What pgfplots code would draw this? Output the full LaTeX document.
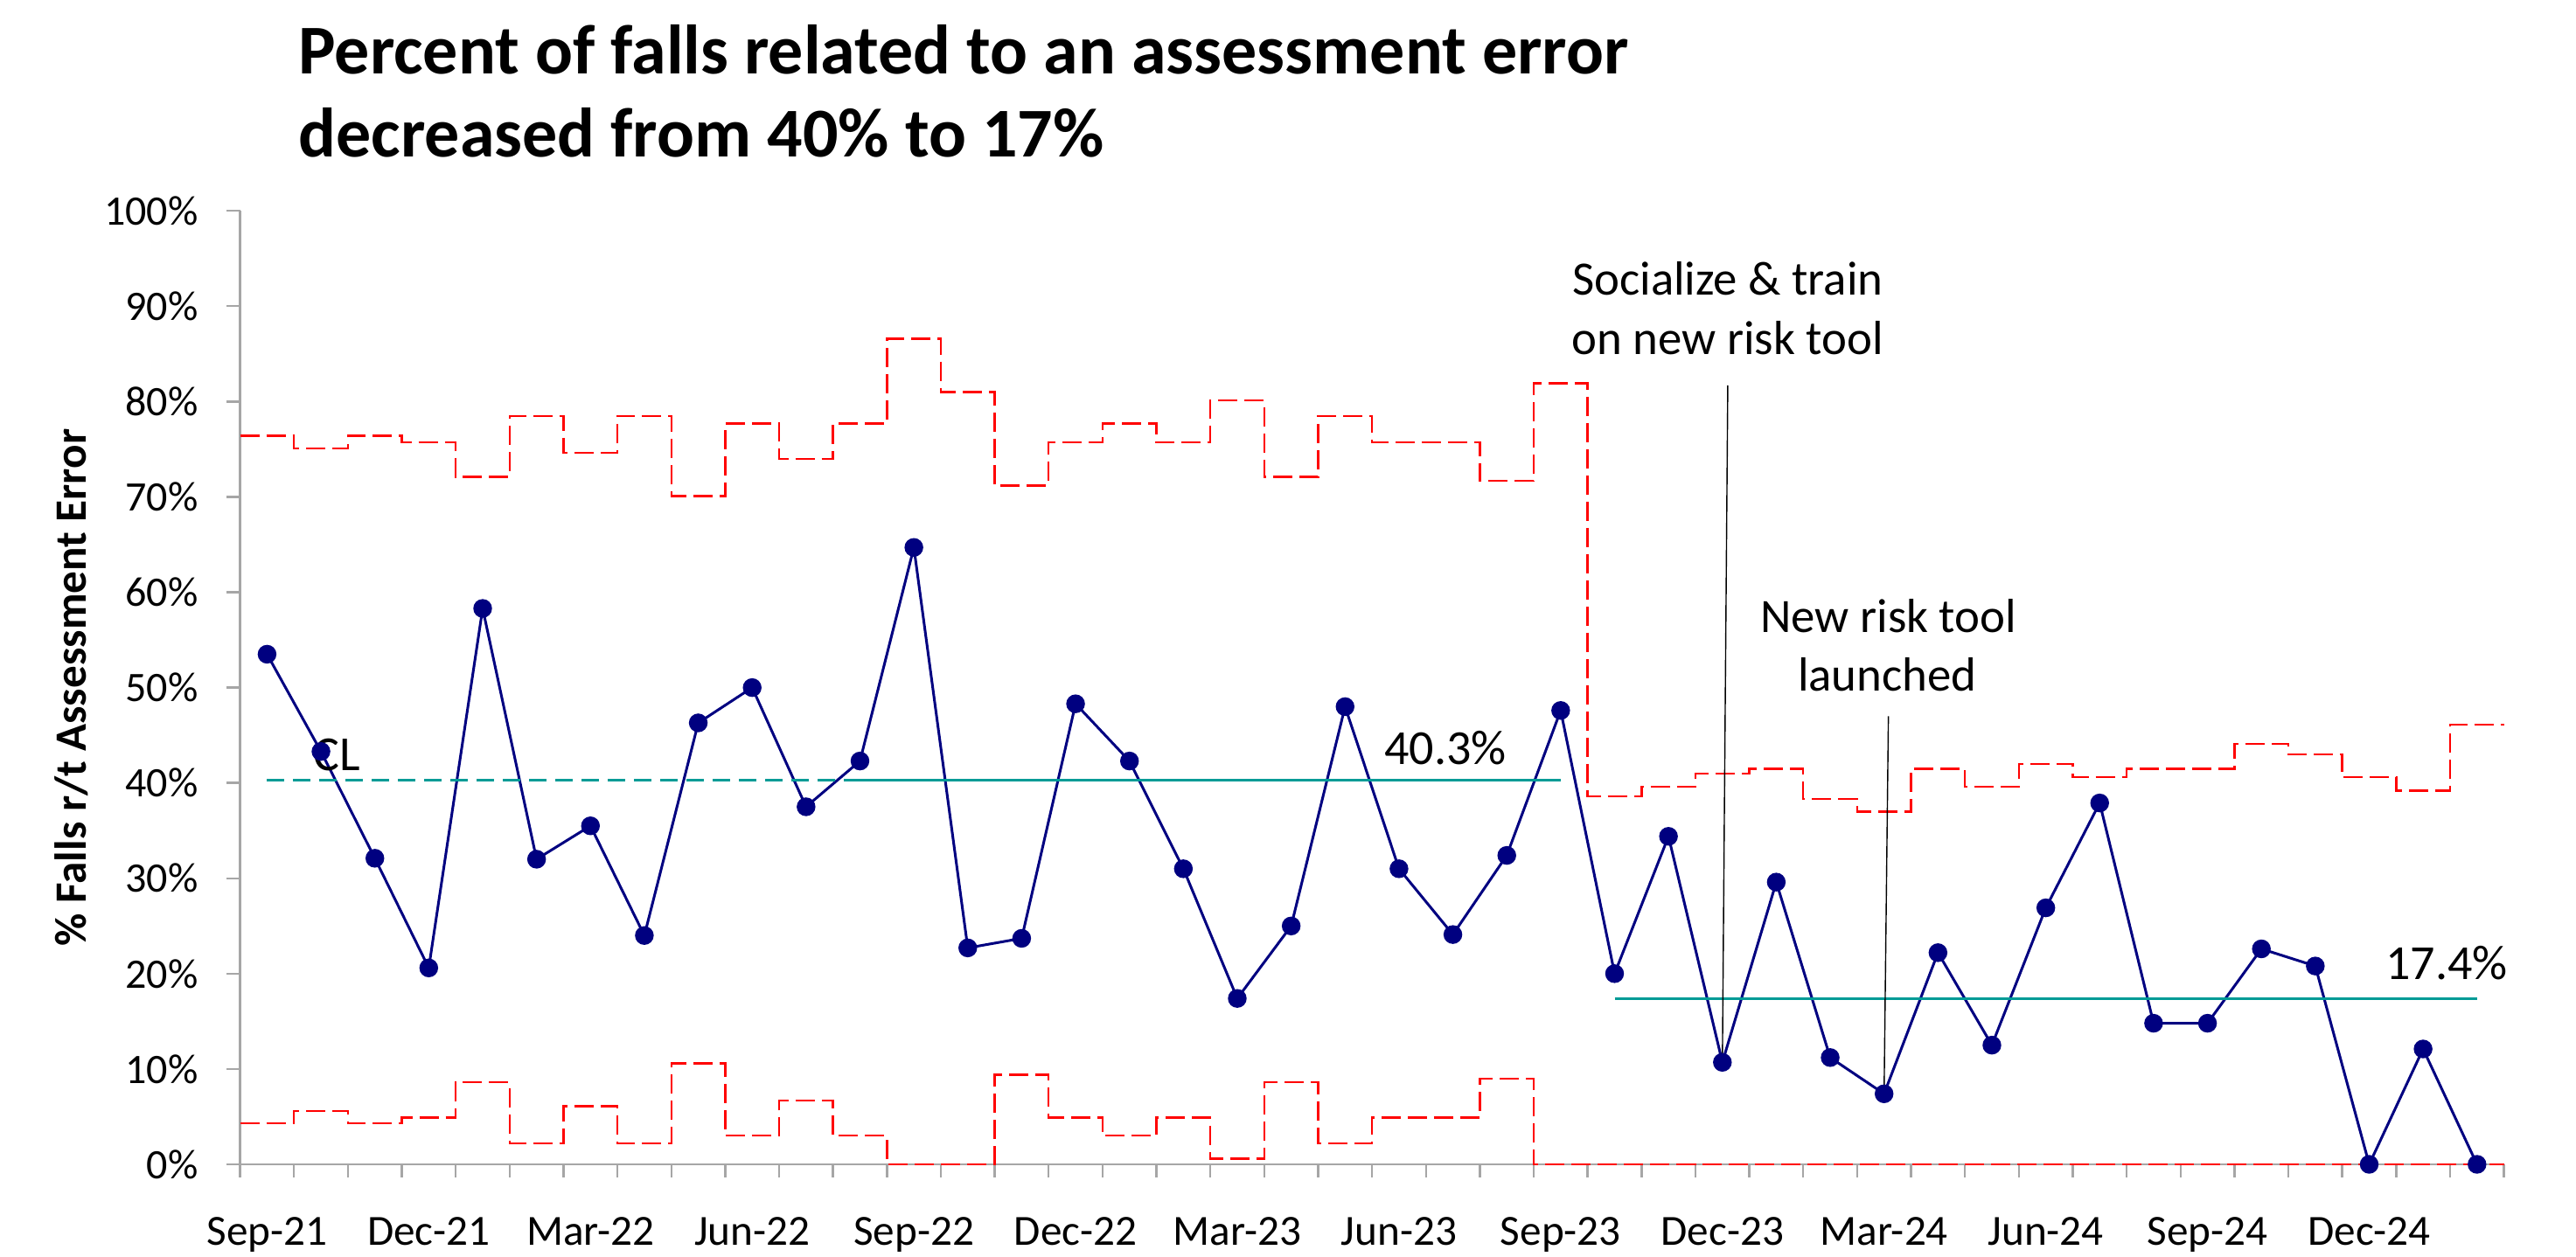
\documentclass[border=0pt]{standalone}
\usepackage{fontspec}
\setmainfont{Carlito}
\usepackage{pgfplots}
\usepackage{pgfplotstable}
\pgfplotsset{compat=1.18}
\definecolor{navyc}{RGB}{0,0,128}
\definecolor{tealc}{RGB}{0,155,150}
\definecolor{axgray}{RGB}{166,166,166}

\pgfplotstableread{
x y
0 53.5
1 43.3
2 32.1
3 20.6
4 58.3
5 32.0
6 35.5
7 24.0
8 46.3
9 50.0
10 37.5
11 42.3
12 64.7
13 22.7
14 23.7
15 48.3
16 42.3
17 31.0
18 17.4
19 25.0
20 48.0
21 31.0
22 24.1
23 32.4
24 47.6
25 20.0
26 34.4
27 10.7
28 29.6
29 11.2
30 7.4
31 22.2
32 12.5
33 26.9
34 37.9
35 14.8
36 14.8
37 22.6
38 20.8
39 0
40 12.1
41 0
}\datatable

\pgfplotstableread{
x ucl lcl
-0.5 76.4 4.3
0.5 75.1 5.6
1.5 76.4 4.3
2.5 75.7 4.9
3.5 72.1 8.6
4.5 78.5 2.2
5.5 74.6 6.1
6.5 78.5 2.2
7.5 70.1 10.6
8.5 77.7 3.0
9.5 74.0 6.7
10.5 77.7 3.0
11.5 86.6 0
12.5 81.0 0
13.5 71.2 9.4
14.5 75.7 4.9
15.5 77.7 3.0
16.5 75.7 4.9
17.5 80.1 0.6
18.5 72.1 8.6
19.5 78.5 2.2
20.5 75.7 4.9
21.5 75.7 4.9
22.5 71.7 9.0
23.5 81.9 0
24.5 38.6 0
25.5 39.6 0
26.5 41.0 0
27.5 41.5 0
28.5 38.3 0
29.5 37.0 0
30.5 41.5 0
31.5 39.6 0
32.5 42.0 0
33.5 40.6 0
34.5 41.5 0
35.5 41.5 0
36.5 44.1 0
37.5 43.0 0
38.5 40.6 0
39.5 39.2 0
40.5 46.1 0
41.5 46.1 0
}\limtable

\begin{document}
\begin{tikzpicture}
\useasboundingbox (-68.65pt,-26.25pt) rectangle (667.85pt,333pt);
\begin{axis}[
  at={(0pt,0pt)}, anchor=south west,
  scale only axis, width=647.25pt, height=272.7pt,
  xmin=-0.5, xmax=41.5, ymin=0, ymax=100,
  clip=false,
  axis x line=bottom, axis y line=left,
  axis line style={draw=axgray, line width=0.6pt, -},
  xtick={-0.5,0.5,...,41.5},
  xticklabels={Sep-21,,,Dec-21,,,Mar-22,,,Jun-22,,,Sep-22,,,Dec-22,,,Mar-23,,,Jun-23,,,Sep-23,,,Dec-23,,,Mar-24,,,Jun-24,,,Sep-24,,,Dec-24,,,},
  xticklabel style={anchor=base, yshift=-19.4pt, xshift=7.705pt, inner sep=0pt, font=\fontsize{12.3}{14}\selectfont},
  ytick={0,10,...,100},
  yticklabels={0\%,10\%,20\%,30\%,40\%,50\%,60\%,70\%,80\%,90\%,100\%},
  yticklabel style={anchor=east, inner sep=0pt, xshift=-8pt, font=\fontsize{12}{14}\selectfont},
  tick align=outside,
  major tick length=3.8pt,
  tick style={draw=axgray, line width=0.6pt},
]
\addplot[navyc, line width=0.75pt, mark=*, mark size=2.3pt, mark options={fill=navyc, draw=navyc}] table[x=x, y=y] {\datatable};
\addplot[tealc, line width=0.8pt, dash pattern=on 5pt off 2.5pt] coordinates {(0,40.3) (11,40.3)};
\addplot[tealc, line width=0.8pt] coordinates {(11,40.3) (24,40.3)};
\addplot[tealc, line width=0.8pt] coordinates {(25,17.4) (41,17.4)};
\addplot[red, line width=0.6pt, const plot, dash pattern=on 5.5pt off 2pt] table[x=x, y=ucl] {\limtable};
\addplot[red, line width=0.6pt, const plot, dash pattern=on 5.5pt off 2pt] table[x=x, y=lcl] {\limtable};
\draw[black, line width=0.35pt] (axis cs:27.1,81.7) -- (axis cs:27,10.7);
\draw[black, line width=0.35pt] (axis cs:30.08,47.0) -- (axis cs:30,7.4);
\node[anchor=base west, inner sep=0pt, font=\fontsize{14}{16}\selectfont] at (axis cs:0.85,41.3) {CL};
\node[anchor=base west, inner sep=0pt, font=\fontsize{14}{16}\selectfont] at (axis cs:20.72,41.9) {40.3\%};
\node[anchor=base east, inner sep=0pt, font=\fontsize{14}{16}\selectfont] at (axis cs:41.58,19.4) {17.4\%};
\node[anchor=base, inner sep=0pt, font=\fontsize{13.7}{16}\selectfont] at (axis cs:27.1,91.2) {Socialize \& train};
\node[anchor=base, inner sep=0pt, font=\fontsize{13.7}{16}\selectfont] at (axis cs:27.1,84.95) {on new risk tool};
\node[anchor=base, inner sep=0pt, font=\fontsize{13.7}{16}\selectfont] at (axis cs:30.08,55.8) {New risk tool};
\node[anchor=base, inner sep=0pt, font=\fontsize{13.7}{16}\selectfont] at (axis cs:30.06,49.6) {launched};
\end{axis}
\node[anchor=base west, inner sep=0pt, font=\fontsize{20}{24}\selectfont\bfseries] at (16.55pt,311.8pt) {Percent of falls related to an assessment error};
\node[anchor=base west, inner sep=0pt, font=\fontsize{20}{24}\selectfont\bfseries] at (16.55pt,288pt) {decreased from 40\% to 17\%};
\node[rotate=90, inner sep=0pt, font=\fontsize{12.8}{15}\selectfont\bfseries] at (-48.2pt,136.35pt) {\% Falls r/t Assessment Error};
\end{tikzpicture}
\end{document}
